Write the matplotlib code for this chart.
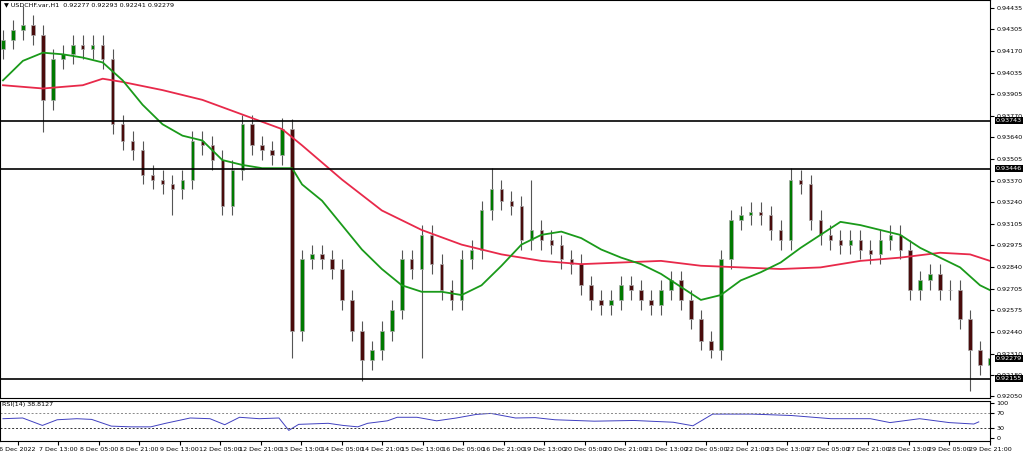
import numpy as np
import matplotlib.pyplot as plt

# closes, one per candle (candle i sits at x = i)
closes = [.9424, .9430, .9433, .9427, .9387, .9412, .9415, .9421, .9418, .9421,
          .9412, .9372, .9362, .9356, .9341, .9338, .9335, .9332, .9338, .9362,
          .9359, .9350, .9322, .9344, .9372, .9359, .9356, .9353, .9369, .9245,
          .9289, .9292, .9289, .9283, .9264, .9245, .9227, .9233, .9245, .9258,
          .9289, .9283, .9304, .9286, .9270, .9264, .9289, .9295, .9319, .9332,
          .9325, .9322, .9301, .9307, .9301, .9298, .9289, .9286, .9273, .9264,
          .9261, .9264, .9273, .9270, .9264, .9261, .9270, .9276, .9264, .9252,
          .9239, .9233, .9289, .9313, .9316, .9318, .9316, .9307, .9301, .9338,
          .9335, .9313, .9304, .9301, .9298, .9301, .9295, .9292, .9301, .9304,
          .9295, .9270, .9276, .9280, .9270, .9270, .9252, .9233, .9224, .9228]
first_open = .9418
wick = 0.0006
spike_low = {4: .9367, 17: .9316, 29: .9228, 36: .9214, 42: .9228, 97: .9208, 71: .9228}
spike_high = {2: .9445, 24: .9378, 28: .9376, 49: .9345, 79: .9345, 53: .9338}

green_x = [0, 2, 4, 6, 8, 10, 12, 14, 16, 18, 20, 22, 24, 26, 28, 29] + list(range(30, 99, 2)) + [99]
green_ma = [.9399, .9411, .9416, .9415, .9413, .9410, .9399, .9384, .9372, .9365, .9362, .9350, .9347, .9345, .9345,
            .9345, .9335, .9325, .9310, .9295, .9283, .9273, .9269, .9269, .9267, .9273, .9285, .9298, .9304,
            .9306, .9302, .9295, .9290, .9286, .9280, .9272, .9264, .9267, .9276, .9281, .9287, .9296, .9304,
            .9312, .9310, .9307, .9304, .9296, .9290, .9284, .9273, .9270]
green_x = green_x[:15] + [29] + list(range(30, 99, 2)) + [99]
red_x = [0, 4, 8, 10, 12, 16, 20, 24, 28, 30, 34, 38, 42, 46, 50, 54, 58, 62, 66, 70, 74, 78, 82, 86, 90, 94, 97, 99]
red_ma = [.9396, .9394, .9396, .9400, .9398, .9393, .9387, .9378, .9369, .9359, .9338, .9319, .9307, .9298,
          .9292, .9288, .9286, .9287, .9288, .9285, .9284, .9283, .9284, .9288, .9290, .9293, .9292, .9288]

rsi_x = [0, 2, 4, 5.5, 7.5, 9, 11, 13, 15, 16.5, 19, 21, 22.5, 24, 26, 28, 29, 30, 33, 34.5, 36, 37, 39, 40,
         42, 44, 46, 48, 49.5, 52, 54, 56, 60, 64, 68, 70, 72, 76, 80, 84, 88, 90, 93, 96, 98.5, 99]
rsi = [55, 57, 36, 52, 55, 53, 34, 32, 32, 42, 57, 55, 38, 59, 55, 57, 22, 39, 42, 36, 32, 42, 49, 59,
       59, 49, 57, 67, 70, 57, 58, 52, 48, 50, 45, 35, 68, 68, 64, 55, 55, 44, 55, 44, 40, 46]

levels = [0.93743, 0.93446, 0.92155]
price_ticks = [0.94435, 0.94305, 0.94170, 0.94035, 0.93905, 0.93770, 0.93640, 0.93505, 0.93370, 0.93240,
               0.93105, 0.92975, 0.92840, 0.92705, 0.92575, 0.92440, 0.92310, 0.92180, 0.92050]
last_price = 0.92279
date_labels = ["6 Dec 2022", "7 Dec 13:00", "8 Dec 05:00", "8 Dec 21:00", "9 Dec 13:00", "12 Dec 05:00",
               "12 Dec 21:00", "13 Dec 13:00", "14 Dec 05:00", "14 Dec 21:00", "15 Dec 13:00", "16 Dec 05:00",
               "16 Dec 21:00", "19 Dec 13:00", "20 Dec 05:00", "20 Dec 21:00", "21 Dec 13:00", "22 Dec 05:00",
               "22 Dec 21:00", "23 Dec 13:00", "27 Dec 05:00", "27 Dec 21:00", "28 Dec 13:00", "29 Dec 05:00",
               "29 Dec 21:00"]
date_pos = [1.5 + 4.11 * k for k in range(len(date_labels))]

FS = 4.6
fig = plt.figure(figsize=(10.24, 4.54), dpi=100)
W, H = 1024, 454
ax = fig.add_axes([0, (H - 398) / H, 990 / W, 398 / H])
ax2 = fig.add_axes([0, (H - 441) / H, 990 / W, 40 / H])

opens = [first_open] + closes[:-1]
for i, (o, c) in enumerate(zip(opens, closes)):
    hi = spike_high.get(i, max(o, c) + wick)
    lo = spike_low.get(i, min(o, c) - wick)
    ax.vlines(i, lo, hi, color='#555555', lw=0.8, zorder=2)
    col = '#007a00' if c >= o else '#4a0c0c'
    ax.bar(i, max(abs(c - o), 0.00003), bottom=min(o, c), width=0.35, color=col,
           edgecolor='#aaaaaa', lw=0.5, zorder=3)

ax.plot(red_x, red_ma, color='#e8294a', lw=1.3, zorder=4)
ax.plot(green_x, green_ma, color='#1a9a1a', lw=1.3, zorder=4)
for lv in levels:
    ax.axhline(lv, color='black', lw=1.2, zorder=5)

ax.set_xlim(-0.3, 99)
ax.set_ylim(0.92037, 0.94484)
ax.yaxis.tick_right()
ax.set_yticks(price_ticks)
ax.set_yticklabels(['%.5f' % p for p in price_ticks], fontsize=FS)
ax.set_xticks([])
for lv in levels + [last_price]:
    ax.text(1.006, lv, '%.5f' % lv, transform=ax.get_yaxis_transform(), fontsize=FS, color='white',
            va='center', ha='left', bbox=dict(facecolor='black', edgecolor='none', pad=0.6))
ax.text(0.004, 0.995, '\u25bc USDCHF.var,H1  0.92277 0.92293 0.92241 0.92279', transform=ax.transAxes,
        fontsize=FS, va='top', ha='left')

ax2.plot(rsi_x, rsi, color='#4040c0', lw=0.7)
ax2.axhline(70, color='#888888', lw=0.7, ls=(0, (2, 2)))
ax2.axhline(30, color='#333333', lw=0.7, ls=(0, (2, 2)))
ax2.set_xlim(-0.3, 99)
ax2.set_ylim(-8, 105)
ax2.yaxis.tick_right()
ax2.set_yticks([0, 30, 70, 100])
ax2.set_yticklabels(['0', '30', '70', '100'], fontsize=FS)
ax2.set_xticks(date_pos)
ax2.set_xticklabels(date_labels, fontsize=FS)
ax2.tick_params(axis='x', length=3, pad=1)
ax2.text(0.002, 0.97, 'RSI(14) 38.8127', transform=ax2.transAxes, fontsize=FS, va='top')
for a in (ax, ax2):
    a.tick_params(axis='y', length=3, pad=1.5)
    for s in a.spines.values():
        s.set_linewidth(0.8)

fig.savefig('out.png', dpi=100)
